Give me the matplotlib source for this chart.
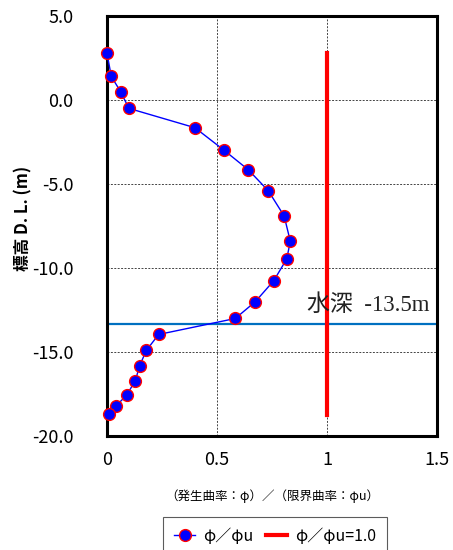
import matplotlib
matplotlib.use('Agg')
import matplotlib.pyplot as plt

plt.rcParams['font.family'] = ['Noto Sans CJK JP', 'DejaVu Sans']

# 標高 D.L. (m) と 曲率比
depth = [2.8, 1.4, 0.5, -0.5, -1.65, -3.0, -4.15, -5.4, -6.9, -8.4,
         -9.45, -10.75, -12.0, -13.0, -13.95, -14.9, -15.8, -16.7,
         -17.55, -18.2, -18.7]
ratio = [0.0, 0.02, 0.062, 0.10, 0.40, 0.533, 0.642, 0.733, 0.805, 0.833,
         0.817, 0.758, 0.674, 0.583, 0.235, 0.179, 0.149, 0.129,
         0.09, 0.042, 0.009]

limit_x = [1.0, 1.0]
limit_y = [2.8, -18.75]
water_level = -13.3
water_label = '水深  -13.5m'

xticks = [0, 0.5, 1.0, 1.5]
xticklabels = ['0', '0.5', '1', '1.5']
yticks = [5, 0, -5, -10, -15, -20]
yticklabels = ['5.0', '0.0', '-5.0', '-10.0', '-15.0', '-20.0']

fig = plt.figure(figsize=(4.53, 5.5), dpi=100)
ax = fig.add_axes([0.236, 0.207, 0.729, 0.764])

ax.plot(ratio, depth, color='blue', lw=1, marker='o', ms=8.5,
        mfc='blue', mec='red', mew=1, label='φ／φu', zorder=4,
        clip_on=False)
ax.plot(limit_x, limit_y, color='red', lw=3, label='φ／φu=1.0', zorder=3)
ax.axhline(water_level, color='#0070C0', lw=1.6, zorder=2)
ax.text(1.465, water_level + 0.45, water_label, ha='right', va='bottom',
        fontsize=16.5, color='#222222',
        family=['Liberation Serif', 'Noto Sans CJK JP'])

ax.set_xlim(0, 1.5)
ax.set_ylim(-20, 5)
ax.set_xticks(xticks)
ax.set_xticklabels(xticklabels)
ax.set_yticks(yticks)
ax.set_yticklabels(yticklabels)
ax.tick_params(axis='y', length=0, labelsize=13, pad=24)
ax.tick_params(axis='x', length=0, labelsize=13, pad=11)
ax.grid(True, color='#444444', ls=(0, (2, 1.5)), lw=0.7)
for s in ax.spines.values():
    s.set_linewidth(2.2)
    s.set_color('black')

ax.set_ylabel('標高 D. L. (m)', fontsize=12, fontweight='bold')
ax.yaxis.set_label_coords(-0.225, 0.517)
ax.set_xlabel('（発生曲率：φ）／（限界曲率：φu）', fontsize=9, labelpad=14)

leg = fig.legend(loc='upper center', bbox_to_anchor=(0.607, 0.075), ncol=2,
                 fontsize=11.5, frameon=True, fancybox=False,
                 edgecolor='#333333', handlelength=1.3, handletextpad=0.5,
                 columnspacing=0.8, borderpad=0.7)
leg.get_frame().set_linewidth(0.8)

fig.savefig('out.png', dpi=100)
